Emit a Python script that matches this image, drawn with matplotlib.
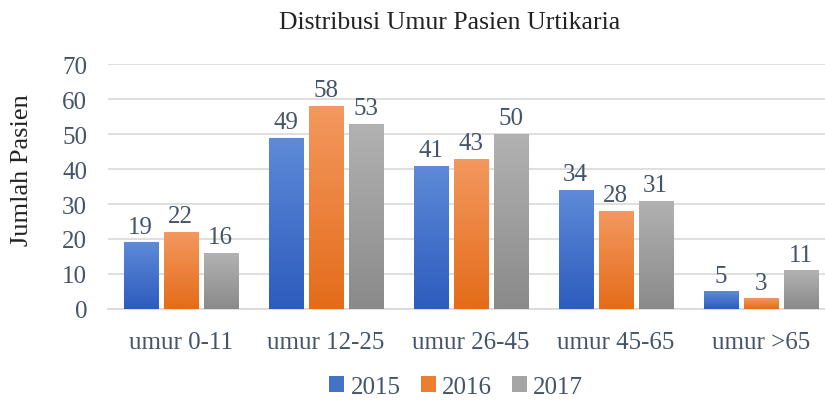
import matplotlib
matplotlib.use("Agg")
import matplotlib.pyplot as plt
import numpy as np
from matplotlib.colors import LinearSegmentedColormap
from matplotlib.patches import Patch

categories = ["umur 0-11", "umur 12-25", "umur 26-45", "umur 45-65", "umur >65"]
years = ["2015", "2016", "2017"]
v2015 = [19, 49, 41, 34, 5]
v2016 = [22, 58, 43, 28, 3]
v2017 = [16, 53, 50, 31, 11]
series = [v2015, v2016, v2017]

top_colors = ["#5E8AD8", "#F3985F", "#B2B2B2"]
bot_colors = ["#2C5CBD", "#E46C1A", "#8A8A8A"]
mid_colors = ["#4472C4", "#ED7D31", "#A5A5A5"]
text_color = "#44546A"
FAM = ['Liberation Serif', 'DejaVu Serif']

plt.rcParams['font.family'] = FAM

fig = plt.figure(figsize=(8.25, 4.02), dpi=100)
ax = fig.add_axes([0.131, 0.229, 0.879, 0.609])

x = np.arange(len(categories))
w = 0.235
offs = [-0.276, 0.0, 0.276]
grad = np.linspace(1, 0, 256).reshape(-1, 1)
for i, vals in enumerate(series):
    bars = ax.bar(x + offs[i], vals, width=w, color=mid_colors[i], zorder=2, label=years[i])
    cmap = LinearSegmentedColormap.from_list("g%d" % i, [bot_colors[i], top_colors[i]])
    for b, v in zip(bars, vals):
        bx, by = b.get_x(), b.get_y()
        bw, bh = b.get_width(), b.get_height()
        im = ax.imshow(grad, cmap=cmap, aspect='auto', extent=[bx, bx + bw, by, by + bh],
                       zorder=3, vmin=0, vmax=1)
        im.set_clip_path(b)
        ax.text(bx + bw / 2, by + bh + 1.4, str(v), ha='center', va='bottom',
                fontsize=18, color=text_color, zorder=4, family=FAM)

ax.set_xlim(-0.5, len(categories) - 0.5)
ax.set_ylim(0, 70)
ax.set_yticks(np.arange(0, 71, 10))
ax.set_xticks(x)
ax.set_xticklabels(categories)
ax.tick_params(axis='both', length=0, labelsize=18, colors=text_color)
ax.tick_params(axis='x', pad=16)
ax.tick_params(axis='y', pad=15)
ax.grid(axis='y', color='#D9D9D9', linewidth=1.2, zorder=0)
ax.set_axisbelow(True)
for s in ['top', 'right', 'left']:
    ax.spines[s].set_visible(False)
ax.spines['bottom'].set_color('#D9D9D9')
ax.spines['bottom'].set_linewidth(1.2)

ax.set_ylabel("Jumlah Pasien", fontsize=19, color='#222222', family=FAM)
ax.yaxis.set_label_coords(-0.104, 0.571)
fig.text(0.545, 0.942, "Distribusi Umur Pasien Urtikaria", ha='center', va='center',
         fontsize=18.5, color='#222222', family=FAM)

handles = [Patch(facecolor=mid_colors[i], label=years[i]) for i in range(3)]
fig.legend(handles=handles, loc='center', bbox_to_anchor=(0.553, 0.035), ncol=3,
           frameon=False, prop={'family': FAM, 'size': 18}, handlelength=0.6, handleheight=0.6,
           handletextpad=0.25, columnspacing=0.8, labelcolor=text_color)

fig.savefig("out.png", dpi=100)
